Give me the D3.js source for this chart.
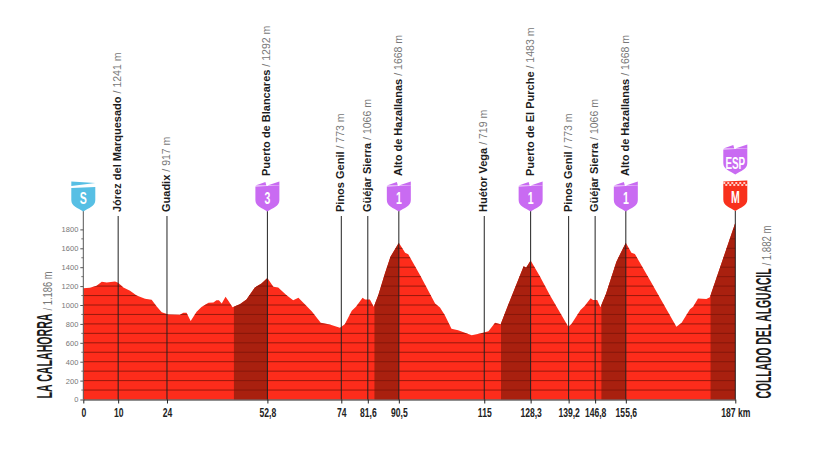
<!DOCTYPE html>
<html>
<head>
<meta charset="utf-8">
<script src="https://cdn.jsdelivr.net/npm/d3@7"></script>
<style>
  html, body { margin: 0; padding: 0; background: #fff; }
  svg { display: block; }
  .narrow { font-family: "Liberation Sans", sans-serif; font-weight: 700; }
  .y-axis text { font-family: "Liberation Sans", sans-serif; font-size: 7.5px; fill: #777; }
  .x-axis text { font-family: "Liberation Sans", sans-serif; font-weight: 700; font-size: 13px; fill: #222; }
</style>
</head>
<body>
<svg id="chart"></svg>
<script>
// Profile
const distance = [0, 1.9, 3.8, 5.3, 6.7, 9.1, 10, 11.5, 13.4, 15.3, 17.7, 19.6, 21, 22.5, 24.4, 27.7, 28.7, 29.6, 30.8, 32.5, 33.9, 35.9, 37.3, 38.2, 38.9, 39.7, 40.8, 41.6, 42.8, 44.9, 46.8, 49.2, 51.1, 52.8, 54.5, 55.9, 58.3, 60.2, 61.7, 63.6, 65.5, 68.1, 70.7, 73.6, 75, 77, 78.2, 80.1, 80.8, 82.2, 83.3, 84.6, 86.5, 88.1, 90.5, 92.3, 93.2, 96.6, 100.9, 102.3, 103.7, 105.6, 107.5, 111.4, 113.8, 116.2, 118.1, 119.7, 122.4, 126.3, 127, 128.3, 130.9, 133.8, 139.1, 140, 142.6, 143.8, 145.5, 146.2, 147.4, 148.3, 149.9, 152.9, 155.6, 157.2, 158.2, 162.5, 170.1, 171.6, 174, 174.9, 176.3, 178.7, 179.7, 187];
const elevation = [1178, 1182, 1203, 1245, 1238, 1249, 1235, 1185, 1150, 1100, 1065, 1055, 988, 924, 900, 896, 917, 917, 832, 928, 980, 1023, 1026, 1051, 1051, 1016, 1086, 1044, 977, 1009, 1058, 1185, 1228, 1285, 1192, 1185, 1104, 1051, 1076, 1005, 935, 811, 794, 758, 797, 938, 981, 1076, 1058, 1058, 981, 1104, 1333, 1510, 1660, 1552, 1538, 1316, 1016, 974, 892, 748, 734, 681, 698, 723, 811, 797, 1051, 1410, 1395, 1470, 1307, 1106, 771, 799, 947, 989, 1071, 1053, 1053, 975, 1116, 1459, 1660, 1554, 1540, 1265, 771, 813, 954, 982, 1070, 1063, 1081, 1870];

// Climbs, shaded darker [from km, to km]
const climbs = [[43.2, 52.8], [83.5, 90.5], [119.8, 128.3], [148.6, 155.6], [179.9, 187]];

// Points along the route
const placeKm = [10, 24, 52.8, 74, 81.6, 90.5, 115, 128.3, 139.2, 146.8, 155.6];
const placeNames = ['Jórez del Marquesado', 'Guadix', 'Puerto de Blancares', 'Pinos Genil', 'Güéjar Sierra', 'Alto de Hazallanas', 'Huétor Vega', 'Puerto de El Purche', 'Pinos Genil', 'Güéjar Sierra', 'Alto de Hazallanas'];
const placeAlts = ['1241 m', '917 m', '1292 m', '773 m', '1066 m', '1668 m', '719 m', '1483 m', '773 m', '1066 m', '1668 m'];
const placeBadges = ['', '', '3', '', '', '1', '', '1', '', '', '1'];

const xTicks = [0, 10, 24, 52.8, 74, 81.6, 90.5, 115, 128.3, 139.2, 146.8, 155.6, 187];
const xTickLabels = ['0', '10', '24', '52,8', '74', '81,6', '90,5', '115', '128,3', '139,2', '146,8', '155,6', '187 km'];
const yTicks = d3.range(0, 1801, 200);
const gridLines = d3.range(100, 1801, 100);

const width = 819, height = 468;
const colors = { fill: '#fd2c1b', climb: '#a9200f', grid: '#7c1409', line: '#222', purple: '#c96bf2', blue: '#57bfe4', red: '#f8301c' };

const svg = d3.select('#chart').attr('width', width).attr('height', height);
const xScale = d3.scaleLinear().domain([0, 187]).range([83.3, 735.3]);
const yScale = d3.scaleLinear().domain([0, 1800]).range([399.5, 229.4]);

const profile = distance.map((d, i) => [d, elevation[i]]);
const area = d3.area().x(d => xScale(d[0])).y0(yScale(0)).y1(d => yScale(d[1]));

svg.append('defs').append('clipPath').attr('id', 'profile-clip')
  .append('path').attr('d', area(profile));

// Mountain
svg.append('path').attr('d', area(profile)).attr('fill', colors.fill);
const body = svg.append('g').attr('clip-path', 'url(#profile-clip)');
body.selectAll('.climb').data(climbs).join('rect')
  .attr('class', 'climb')
  .attr('x', d => xScale(d[0]))
  .attr('width', d => xScale(d[1]) - xScale(d[0]))
  .attr('y', yScale(2000))
  .attr('height', yScale(0) - yScale(2000))
  .attr('fill', colors.climb);
body.selectAll('.grid').data(gridLines).join('line')
  .attr('class', 'grid')
  .attr('x1', xScale(0)).attr('x2', xScale(187))
  .attr('y1', d => yScale(d)).attr('y2', d => yScale(d))
  .attr('stroke', colors.grid).attr('stroke-width', 0.8);

// Axes
const yAxis = d3.axisLeft(yScale).tickValues(yTicks).tickFormat(d3.format('d')).tickSize(3).tickPadding(2);
const yG = svg.append('g').attr('class', 'y-axis').attr('transform', `translate(${xScale(0)},0)`).call(yAxis);
yG.select('.domain').remove();
yG.selectAll('line').attr('stroke', '#555');
svg.append('g').selectAll('line').data(gridLines.filter(d => d % 200)).join('line')
  .attr('x1', xScale(0) - 2).attr('x2', xScale(0))
  .attr('y1', d => yScale(d)).attr('y2', d => yScale(d))
  .attr('stroke', '#555').attr('stroke-width', 0.8);

const xAxis = d3.axisBottom(xScale).tickValues(xTicks)
  .tickFormat((d, i) => xTickLabels[i]).tickSize(4).tickPadding(4).tickSizeOuter(0);
const xG = svg.append('g').attr('class', 'x-axis').attr('transform', `translate(0,${yScale(0)})`).call(xAxis);
xG.select('.domain').attr('stroke', colors.line);
xG.selectAll('line').attr('stroke', colors.line);
// no condensed face is installed, so squeeze the labels
xG.selectAll('text').attr('transform', 'scale(0.66,1)');

// Shield outline, centred on x = 0
function shield(top, w, h) {
  const p = d3.path();
  p.moveTo(-w, top);
  p.lineTo(w, top - 1);
  p.lineTo(w, h * 0.62);
  p.bezierCurveTo(w, h * 0.84, w * 0.45, h * 0.88, 0, h);
  p.bezierCurveTo(-w * 0.45, h * 0.88, -w, h * 0.84, -w, h * 0.62);
  p.closePath();
  return p.toString();
}

function drawBadge(km, top, kind, label, color) {
  const g = svg.append('g').attr('transform', `translate(${xScale(km)},${top})`);
  if (kind === 'cat') {
    g.append('path').attr('d', shield(5, 12, 30)).attr('fill', color);
    g.append('path').attr('d', 'M-12,4L-2,0.5L-1,4Z').attr('fill', color);
    g.append('path').attr('d', 'M0,4L12,0L12,4Z').attr('fill', color);
  } else if (kind === 'start') {
    g.append('path').attr('d', shield(6.5, 12, 30)).attr('fill', color);
    g.append('path').attr('d', 'M-12,0L12,1.5L-12,4.5Z').attr('fill', color);
  } else {
    g.append('path').attr('d', shield(0.5, 12, 30)).attr('fill', color);
    g.append('line').attr('x1', -12).attr('x2', 12).attr('y1', 2).attr('y2', 2)
      .attr('stroke', '#fff').attr('stroke-width', 1.5).attr('stroke-dasharray', '2 2');
    g.append('line').attr('x1', -10).attr('x2', 12).attr('y1', 4).attr('y2', 4)
      .attr('stroke', '#fff').attr('stroke-width', 1.5).attr('stroke-dasharray', '2 2');
  }
  g.append('text').attr('class', 'narrow')
    .attr('transform', `translate(0,${label.length > 1 ? 24 : 22}) scale(${label.length > 1 ? 0.58 : 0.62},1)`)
    .attr('text-anchor', 'middle')
    .attr('font-size', 17).attr('fill', '#fff')
    .text(label);
}

// Leader lines and rotated names
placeKm.forEach((km, i) => {
  const badge = placeBadges[i];
  svg.append('line')
    .attr('x1', xScale(km)).attr('x2', xScale(km))
    .attr('y1', badge ? 211 : 216).attr('y2', yScale(0))
    .attr('stroke', colors.line).attr('stroke-width', 1);
  const t = svg.append('text')
    .attr('transform', `translate(${xScale(km) + 3},${badge ? 176 : 212}) rotate(-90)`)
    .attr('font-family', '"Liberation Sans", sans-serif').attr('font-size', 11);
  t.append('tspan').attr('font-weight', 700).attr('fill', '#1c1c1c').text(placeNames[i]);
  t.append('tspan').attr('fill', '#777').attr('dx', 3).attr('font-size', 10.5).text('/ ' + placeAlts[i]);
  if (badge) drawBadge(km, 181.5, 'cat', badge, colors.purple);
});

// Start and finish
svg.append('line').attr('x1', xScale(0)).attr('x2', xScale(0))
  .attr('y1', 211).attr('y2', yScale(0)).attr('stroke', '#555').attr('stroke-width', 1);
svg.append('line').attr('x1', xScale(187)).attr('x2', xScale(187))
  .attr('y1', 211).attr('y2', yScale(0)).attr('stroke', colors.line).attr('stroke-width', 1);
drawBadge(0, 181.5, 'start', 'S', colors.blue);
drawBadge(187, 181, 'final', 'M', colors.red);
drawBadge(187, 144.5, 'cat', 'ESP', colors.purple);

// End labels
function endLabel(x, name, nameLength, alt, altLength) {
  const g = svg.append('g').attr('transform', `translate(${x},398.5) rotate(-90)`);
  g.append('text').attr('class', 'narrow').attr('font-size', 22).attr('fill', '#1c1c1c')
    .attr('textLength', nameLength).attr('lengthAdjust', 'spacingAndGlyphs').text(name);
  g.append('text').attr('x', nameLength + 3).attr('font-family', '"Liberation Sans", sans-serif')
    .attr('font-size', 13).attr('fill', '#777')
    .attr('textLength', altLength).attr('lengthAdjust', 'spacingAndGlyphs').text(alt);
}
endLabel(52, 'LA CALAHORRA', 85, '/ 1.186 m', 39);
endLabel(770.5, 'COLLADO DEL ALGUACIL', 130, '/ 1.882 m', 40);
</script>
</body>
</html>
